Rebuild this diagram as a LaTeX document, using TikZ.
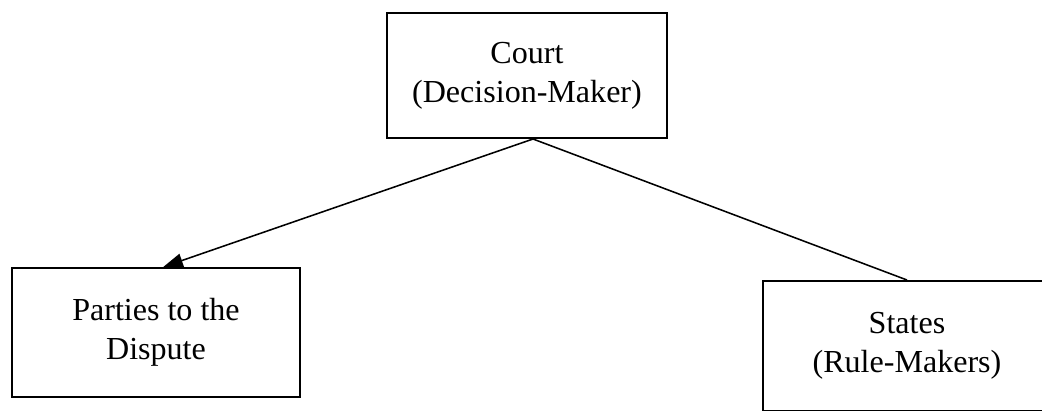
\documentclass[tikz,border=0pt]{standalone}
\usepackage{fontspec}
\setmainfont{Liberation Serif}
\usetikzlibrary{arrows.meta}

\begin{document}
\begin{tikzpicture}[x=0.025cm, y=-0.025cm]
    % Styles
    \tikzstyle{party} = [rectangle, draw=black, line width=1.4pt, align=center, font=\fontsize{22.8}{27.8}\selectfont, inner sep=0pt]
    \tikzstyle{arrow} = [-{Triangle[length=14pt, width=10pt]}, line width=1.1pt]
    \tikzstyle{link} = [line width=1.1pt]

    \useasboundingbox (0, 0) rectangle (1042, 410);

    % Nodes
    \node[party, minimum width=7cm, minimum height=3.125cm] (court) at (527, 75.5) {Court\\(Decision-Maker)};
    \node[party, minimum width=7.2cm, minimum height=3.225cm] (parties) at (156, 332.5) {Parties to the\\Dispute};
    \node[party, minimum width=7.2cm, minimum height=3.25cm] (states) at (907, 346) {States\\(Rule-Makers)};

    % Arrows
    \draw[arrow] ([xshift=0.15cm]court.south) -- ([xshift=0.18cm]parties.north);
    \draw[link] ([xshift=0.15cm]court.south) -- (states.north);
\end{tikzpicture}
\end{document}
